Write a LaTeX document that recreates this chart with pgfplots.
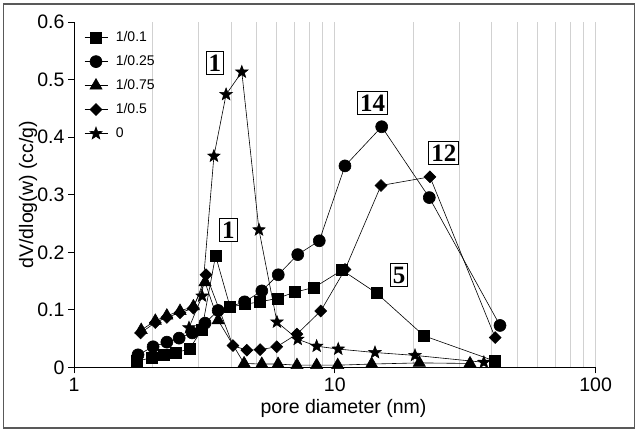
\documentclass[border=0pt]{standalone}
\usepackage{pgfplots}
\usepackage{pgfplotstable}
\pgfplotsset{compat=1.18}
\usepackage{fontspec}
\setmainfont{Liberation Sans}
\newfontfamily\labelserif{Liberation Serif}

% filled five-pointed star marker
\pgfdeclareplotmark{fstar}{%
  \pgfpathmoveto{\pgfpointpolar{90}{\pgfplotmarksize}}%
  \pgfpathlineto{\pgfpointpolar{126}{0.42\pgfplotmarksize}}%
  \pgfpathlineto{\pgfpointpolar{162}{\pgfplotmarksize}}%
  \pgfpathlineto{\pgfpointpolar{198}{0.42\pgfplotmarksize}}%
  \pgfpathlineto{\pgfpointpolar{234}{\pgfplotmarksize}}%
  \pgfpathlineto{\pgfpointpolar{270}{0.42\pgfplotmarksize}}%
  \pgfpathlineto{\pgfpointpolar{306}{\pgfplotmarksize}}%
  \pgfpathlineto{\pgfpointpolar{342}{0.42\pgfplotmarksize}}%
  \pgfpathlineto{\pgfpointpolar{18}{\pgfplotmarksize}}%
  \pgfpathlineto{\pgfpointpolar{54}{0.42\pgfplotmarksize}}%
  \pgfpathclose
  \pgfusepathqfillstroke
}

% pore size distributions, dV/dlog(w) in cc/g against pore diameter in nm
\pgfplotstableread{
d v
1.74 0.011
1.99 0.017
2.20 0.022
2.46 0.026
2.77 0.032
3.09 0.065
3.49 0.194
3.97 0.105
4.53 0.110
5.17 0.114
6.02 0.120
7.04 0.131
8.34 0.139
10.66 0.169
14.48 0.129
21.98 0.055
41.2 0.011
}\sampleA

\pgfplotstableread{
d v
1.76 0.022
2.01 0.036
2.27 0.044
2.53 0.051
2.84 0.060
3.18 0.077
3.57 0.099
4.51 0.114
5.25 0.133
6.07 0.161
7.21 0.196
8.72 0.220
10.94 0.350
15.13 0.418
23.03 0.295
43.0 0.073
}\sampleB

\pgfplotstableread{
d v
1.81 0.065
2.05 0.081
2.27 0.090
2.55 0.098
2.87 0.106
3.18 0.148
3.57 0.082
4.49 0.007
5.25 0.006
6.06 0.006
7.16 0.004
8.52 0.004
10.26 0.004
13.85 0.006
21.09 0.008
33.0 0.007
}\sampleC

\pgfplotstableread{
d v
1.80 0.060
2.05 0.078
2.27 0.087
2.55 0.095
2.87 0.103
3.21 0.161
4.07 0.038
4.60 0.030
5.17 0.031
5.99 0.036
7.16 0.058
8.83 0.098
10.94 0.170
15.04 0.316
23.17 0.331
41.2 0.052
}\sampleD

\pgfplotstableread{
d v
2.76 0.069
3.10 0.124
3.44 0.367
3.83 0.474
4.40 0.513
5.12 0.239
6.00 0.079
7.21 0.049
8.52 0.037
10.31 0.032
14.26 0.026
20.30 0.021
37.3 0.009
}\sampleE

\begin{document}
\begin{tikzpicture}
\useasboundingbox (0,0) rectangle (638pt,434pt);
\begin{axis}[
  at={(74pt,66.5pt)}, anchor=south west,
  scale only axis, width=521.6pt, height=345.6pt,
  xmode=log, xmin=1, xmax=100, ymin=0, ymax=0.6,
  axis lines*=left,
  axis line style={line width=0.8pt, black},
  clip=false,
  xtick={1,10,100}, xticklabels={1,10,100},
  ytick={0,0.1,0.2,0.3,0.4,0.5,0.6},
  yticklabel style={/pgf/number format/.cd, fixed, precision=1, assume math mode=true},
  xticklabel style={inner sep=1pt, yshift=-3pt},
  tick align=outside, major tick length=6pt, minor tick length=0pt,
  tick style={black, line width=0.8pt},
  xmajorgrids, xminorgrids,
  major grid style={black!18, line width=0.9pt},
  minor grid style={black!18, line width=0.9pt},
  tick label style={font=\fontsize{19.5}{19.5}\selectfont},
  label style={font=\fontsize{19.5}{19.5}\selectfont},
  xlabel={pore diameter (nm)},
  ylabel={dV/dlog(w) (cc/g)},
  xlabel style={at={(axis description cs:0.5167,-0.1172)}, anchor=center, inner sep=0pt},
  ylabel style={at={(axis description cs:-0.0882,0.5)}, anchor=center},
  every axis plot/.append style={black, line width=0.6pt, mark options={solid, fill=black}},
  legend style={at={(axis description cs:0,1)}, anchor=north west, xshift=10pt, yshift=-8pt,
    draw=none, fill=none, inner sep=0pt, row sep=9pt, column sep=7pt,
    font=\fontsize{14}{14}\selectfont,
    nodes={inner sep=1pt, text height=10pt, text depth=3pt}},
  legend cell align=left,
  legend image code/.code={\draw[mark repeat=2,mark phase=2,#1] plot coordinates {(0pt,0pt) (11.5pt,0pt) (23pt,0pt)};},
]
\addplot[mark=square*, mark size=5.5pt] table[x=d, y=v] {\sampleA};
\addlegendentry{1/0.1}
\addplot[mark=*, mark size=6pt] table[x=d, y=v] {\sampleB};
\addlegendentry{1/0.25}
\addplot[mark=triangle*, mark size=7pt] table[x=d, y=v] {\sampleC};
\addlegendentry{1/0.75}
\addplot[mark=square*, mark size=4.2pt, mark options={rotate=45}] table[x=d, y=v] {\sampleD};
\addlegendentry{1/0.5}
\addplot[mark=fstar, mark size=6.5pt] table[x=d, y=v] {\sampleE};
\addlegendentry{0}

\tikzset{peak/.style={draw=black, line width=1pt, fill=white,
  font=\labelserif\bfseries\fontsize{25}{25}\selectfont,
  inner xsep=2.5pt, inner ysep=3pt, text height=17pt, text depth=0pt}}
\node[peak] at (axis cs:3.47,0.529) {1};
\node[peak] at (axis cs:3.91,0.239) {1};
\node[peak] at (axis cs:13.95,0.459) {14};
\node[peak] at (axis cs:26.2,0.372) {12};
\node[peak] at (axis cs:17.63,0.160) {5};
\end{axis}
\draw[black!65, line width=1.6pt] (3.5pt,6pt) rectangle (634.5pt,430pt);
\end{tikzpicture}
\end{document}
